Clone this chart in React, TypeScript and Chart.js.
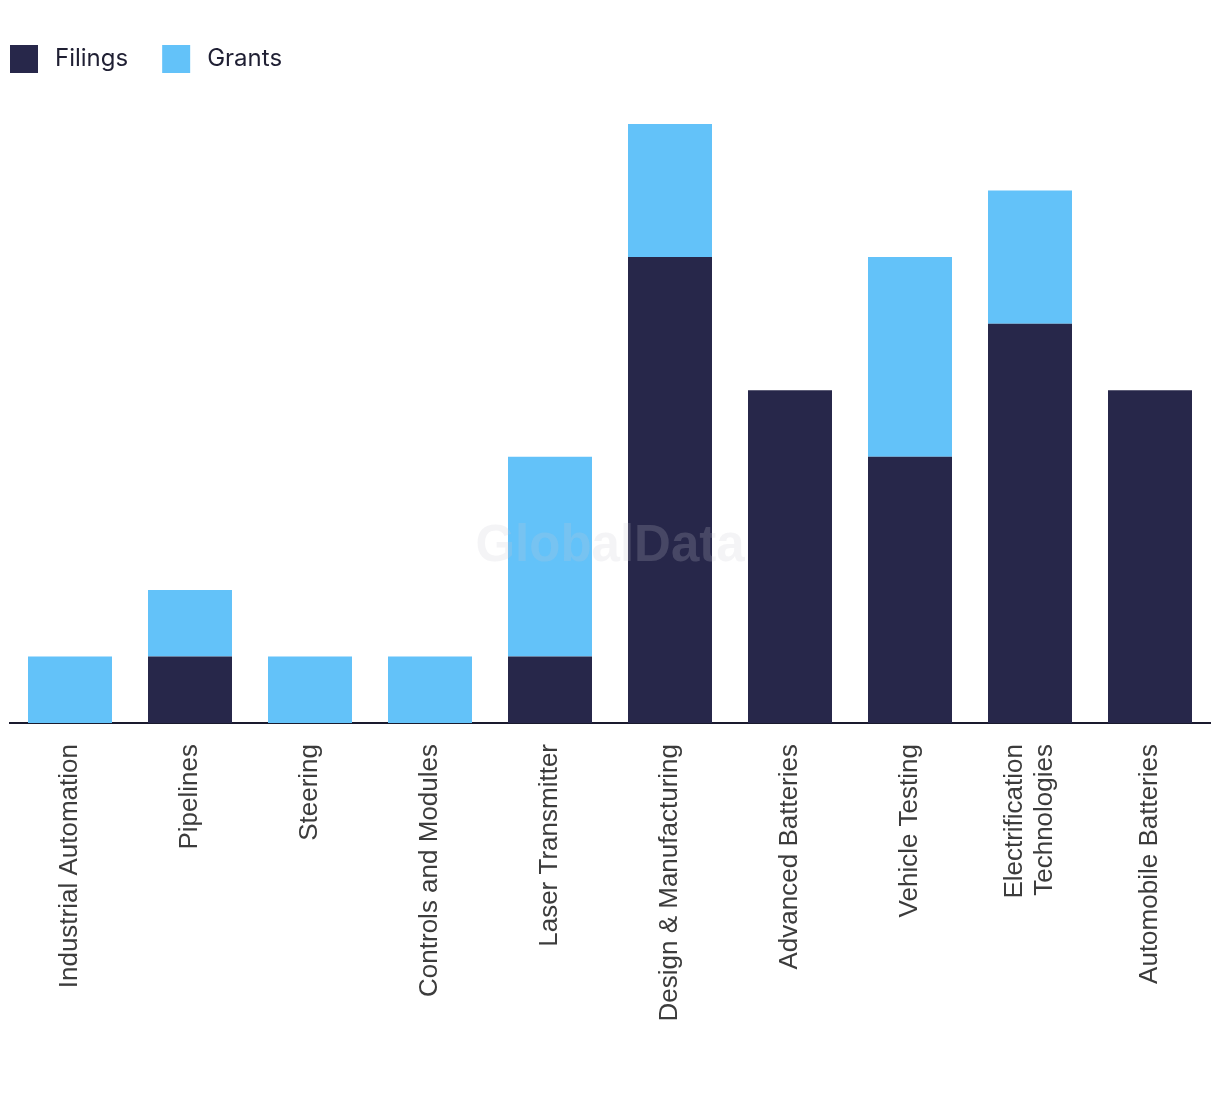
import React, { useEffect, useRef } from "react";
import { Chart, registerables } from "chart.js";

Chart.register(...registerables);

const categories: (string | string[])[] = [
  "Industrial Automation",
  "Pipelines",
  "Steering",
  "Controls and Modules",
  "Laser Transmitter",
  "Design & Manufacturing",
  "Advanced Batteries",
  "Vehicle Testing",
  ["Electrification", "Technologies"],
  "Automobile Batteries",
];

const filings = [0, 1, 0, 0, 1, 7, 5, 4, 6, 5];
const grants = [1, 1, 1, 1, 3, 2, 0, 3, 2, 0];

const seriesLabels = ["Filings", "Grants"];
const seriesColors = ["#27274A", "#63C2F9"];

const TICK_SIZE = 26;
const TICK_LH = 1.15;

const legendPlugin = {
  id: "customLegend",
  afterDraw(chart: any) {
    const ctx = chart.ctx;
    ctx.save();
    ctx.font = "24px Inter";
    ctx.textBaseline = "alphabetic";
    let x = 10;
    chart.data.datasets.forEach((ds: any) => {
      ctx.fillStyle = ds.backgroundColor;
      ctx.fillRect(x, 45, 28, 28);
      ctx.fillStyle = "#1f1f33";
      ctx.fillText(ds.label, x + 45, 66);
      x += 45 + ctx.measureText(ds.label).width + 34;
    });
    ctx.restore();
  },
};

const watermarkPlugin = {
  id: "watermark",
  afterDraw(chart: any) {
    const ctx = chart.ctx;
    ctx.save();
    ctx.font = "bold 51px 'Liberation Sans'";
    ctx.textAlign = "center";
    ctx.textBaseline = "middle";
    ctx.fillStyle = "rgba(200,200,210,0.2)";
    ctx.fillText("GlobalData", 610, 547);
    ctx.restore();
  },
};

export default function App() {
  const ref = useRef<HTMLCanvasElement | null>(null);
  useEffect(() => {
    if (!ref.current) return;
    const chart = new Chart(ref.current, {
      type: "bar",
      data: {
        labels: categories,
        datasets: [
          {
            label: seriesLabels[0],
            data: filings,
            backgroundColor: seriesColors[0],
            barPercentage: 0.7,
            categoryPercentage: 1,
          },
          {
            label: seriesLabels[1],
            data: grants,
            backgroundColor: seriesColors[1],
            barPercentage: 0.7,
            categoryPercentage: 1,
          },
        ],
      },
      options: {
        animation: false,
        responsive: true,
        maintainAspectRatio: false,
        layout: { padding: { left: 10, right: 10, top: 124, bottom: 0 } },
        plugins: {
          legend: { display: false },
          tooltip: { enabled: false },
        },
        scales: {
          x: {
            stacked: true,
            grid: { display: false, drawTicks: false },
            border: { display: true, color: "#1a1a2e", width: 2 },
            ticks: {
              minRotation: 90,
              maxRotation: 90,
              padding: 21,
              autoSkip: false,
              color: "#3c3c3c",
              font: { family: "'Liberation Sans', Arial", size: TICK_SIZE, lineHeight: TICK_LH },
            },
            afterFit(scale: any) {
              scale.height = 371;
            },
            afterUpdate(scale: any) {
              if (scale.__centered) return;
              scale.__centered = true;
              const orig = scale._computeLabelItems.bind(scale);
              scale._computeLabelItems = (area: any) => {
                const items = orig(area);
                const lh = TICK_SIZE * TICK_LH;
                items.forEach((it: any) => {
                  if (Array.isArray(it.label) && it.label.length > 1) {
                    it.options.translation[0] -= ((it.label.length - 1) * lh) / 2;
                  }
                });
                return items;
              };
            },
          },
          y: {
            stacked: true,
            display: false,
            min: 0,
            max: 9,
          },
        },
      },
      plugins: [legendPlugin, watermarkPlugin],
    });
    return () => chart.destroy();
  }, []);
  return (
    <div style={{ position: "absolute", left: 0, top: 0, width: 1220, height: 1094 }}>
      <canvas ref={ref} />
    </div>
  );
}
